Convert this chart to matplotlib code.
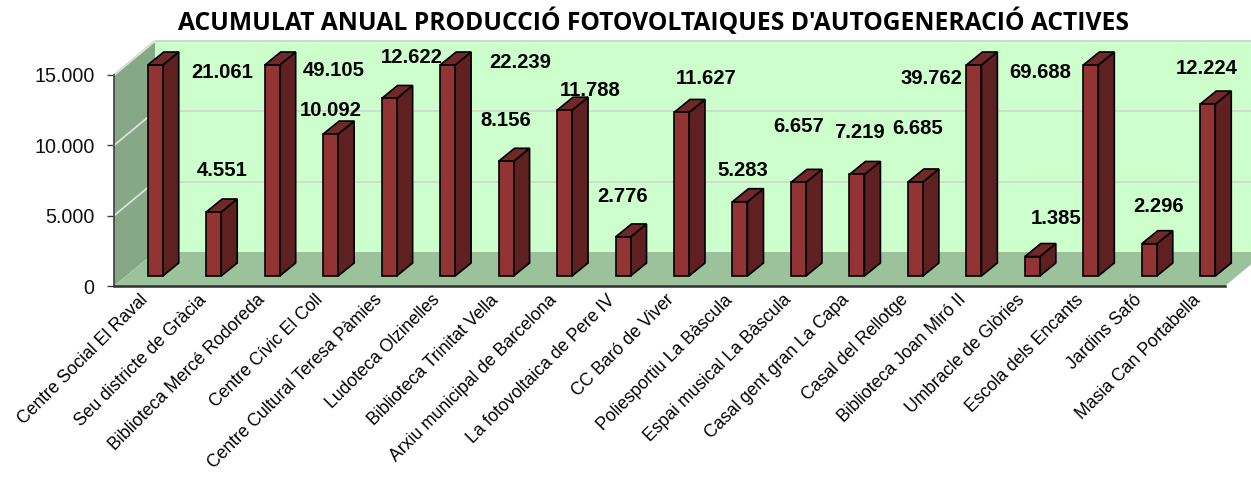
import numpy as np
import matplotlib
matplotlib.use('Agg')
import matplotlib.pyplot as plt
from matplotlib.patches import Polygon

# Chart data
categories = [
    'Centre Social El Raval', 'Seu districte de Gràcia', 'Biblioteca Mercé Rodoreda',
    'Centre Cívic El Coll', 'Centre Cultural Teresa Pàmies', 'Ludoteca Olzinelles',
    'Biblioteca Trinitat Vella', 'Arxiu municipal de Barcelona', 'La fotovoltaica de Pere IV',
    'CC Baró de Viver', 'Poliesportiu La Bàscula', 'Espai musical La Bàscula',
    'Casal gent gran La Capa', 'Casal del Rellotge', 'Biblioteca Joan Miró II',
    'Umbracle de Glòries', 'Escola dels Encants', 'Jardins Safó', 'Masia Can Portabella',
]
values = [21061, 4551, 49105, 10092, 12622, 22239, 8156, 11788, 2776, 11627,
          5283, 6657, 7219, 6685, 39762, 1385, 69688, 2296, 12224]
y_ticks = [0, 5000, 10000, 15000]
y_max = 15000

# Where the value labels sit in the picture (pixels), they don't follow the bars
label_x = [222, 222, 334, 331, 412, 520, 506, 590, 623, 706, 743, 799, 859, 918, 931, 1056, 1040, 1159, 1207]
label_y = [72, 171, 71, 111, 57, 63, 120, 90, 197, 78, 170, 126, 133, 129, 78, 219, 73, 207, 68]

W, H = 1251, 478
left, right, y0_px, ytop_px = 114, 1225, 286, 75

fig = plt.figure(figsize=(W / 100, H / 100), dpi=100, facecolor='white')
plt.rcParams['font.family'] = 'Liberation Sans'
ax = fig.add_axes([left / W, 1 - y0_px / H, (right - left) / W, (y0_px - ytop_px) / H])
ax.set_xlim(-0.5, len(values) - 0.5)
ax.set_ylim(0, y_max)
ax.patch.set_visible(False)

# Pixel to data units, for the fake 3D depth
ux = (len(values)) / (right - left)
uy = y_max / (y0_px - ytop_px)
depth_x, depth_y = 41 * ux, 34 * uy
bar_dx, bar_dy = 12 * ux, 10 * uy
side_x, side_y = 16 * ux, 13 * uy
bar_w = 15 * ux
xl, xr = ax.get_xlim()


def add_poly(points, color, z, edge='none', lw=0):
    ax.add_patch(Polygon(points, closed=True, facecolor=color, edgecolor=edge,
                         linewidth=lw, zorder=z, clip_on=False))


# Walls and floor
add_poly([(xl + depth_x, depth_y), (xr + depth_x, depth_y),
          (xr + depth_x, y_max + depth_y), (xl + depth_x, y_max + depth_y)], '#CCFFCC', 1)
add_poly([(xl, 0), (xl + depth_x, depth_y), (xl + depth_x, y_max + depth_y), (xl, y_max)], '#86A886', 1)
add_poly([(xl, 0), (xr, 0), (xr + depth_x, depth_y), (xl + depth_x, depth_y)], '#9CC29C', 1)

# Grey edge along the top of the walls
ax.plot([xl, xl + depth_x, xr + depth_x], [y_max, y_max + depth_y, y_max + depth_y],
        color='#C8C8C8', lw=1.5, zorder=2, clip_on=False)

# Gridlines on both walls
for t in y_ticks[1:]:
    ax.plot([xl + depth_x, xr + depth_x], [t + depth_y, t + depth_y], color='#D2D8D2',
            lw=1.3, zorder=2, clip_on=False)
    ax.plot([xl, xl + depth_x], [t, t + depth_y], color='#D8E4D8', lw=1.3, zorder=2, clip_on=False)

# Bars, values above the axis limit get cut at the top like in the original
x = np.arange(len(values)) + bar_dx
heights = np.minimum(values, y_max)
ax.bar(x, heights, width=bar_w, bottom=bar_dy, color='#933434', edgecolor='black',
       linewidth=1.2, zorder=4, clip_on=False)
for xi, h in zip(x, heights):
    x1, x2 = xi - bar_w / 2, xi + bar_w / 2
    top = h + bar_dy
    add_poly([(x2, bar_dy), (x2 + side_x, bar_dy + side_y), (x2 + side_x, top + side_y), (x2, top)],
             '#5E2020', 3, 'black', 1.2)
    add_poly([(x1, top), (x2, top), (x2 + side_x, top + side_y), (x1 + side_x, top + side_y)],
             '#712828', 3, 'black', 1.2)

# Axes
for s in ['top', 'right']:
    ax.spines[s].set_visible(False)
ax.spines['left'].set_color('#404040')
ax.spines['bottom'].set_color('#303030')
ax.spines['bottom'].set_linewidth(1.8)
ax.spines['left'].set_linewidth(1.2)
ax.set_yticks(y_ticks)
ax.set_yticklabels([f'{t:,}'.replace(',', '.') for t in y_ticks], fontsize=14.2, color='#111111')
ax.tick_params(axis='y', length=5, width=1, color='#404040', pad=9)
ax.set_xticks(np.arange(len(values)) - 4 * ux)
ax.set_xticklabels(categories, rotation=45, ha='right', va='top', rotation_mode='anchor', fontsize=12.7)
ax.tick_params(axis='x', length=0, pad=4)

# Value labels
for v, lx, ly in zip(values, label_x, label_y):
    fig.text(lx / W, 1 - ly / H, f'{v:,}'.replace(',', '.'), ha='center', va='center',
             fontsize=14.6, fontweight='bold', color='black', zorder=6)

fig.text(654 / W, 1 - 22 / H, "ACUMULAT ANUAL PRODUCCIÓ FOTOVOLTAIQUES D'AUTOGENERACIÓ ACTIVES",
         ha='center', va='center', fontsize=17.7, fontweight='bold', family='Open Sans')

fig.savefig('out.png', dpi=100)
